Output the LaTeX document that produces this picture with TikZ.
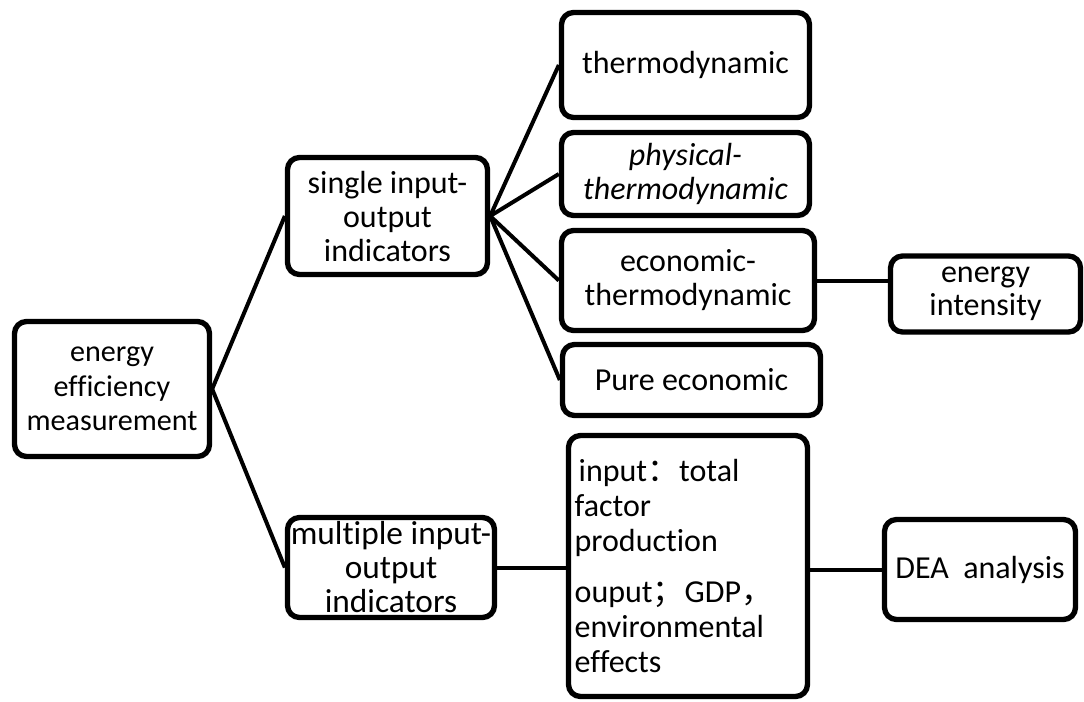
\documentclass[tikz,border=0pt]{standalone}
\usepackage{fontspec}
\setmainfont{Carlito}[Ligatures={NoCommon,NoContextual}]
\newfontfamily\cjk{Noto Sans CJK SC}
\usetikzlibrary{shadows,backgrounds}
\begin{document}
\begin{tikzpicture}[x=0.75pt,y=-0.75pt,
  box/.style={draw=black, line width=4pt, rounded corners=9pt, fill=white, align=center,
    font=\fontsize{24}{25.5}\selectfont, inner sep=1pt,
    drop shadow={shadow xshift=1.2pt, shadow yshift=-1.8pt, opacity=0.25}},
  sz/.style 2 args={minimum width=#1*0.75pt, minimum height=#2*0.75pt},
  conn/.style={line width=3pt}]
\useasboundingbox (0,0) rectangle (1084,701);

\node[box, sz={195}{135}, font=\fontsize{22.6}{26}\selectfont] (eem) at (112,389) {energy\\efficiency\\measurement};
\node[box, sz={200}{117}] (single) at (387.5,216) {single input-\\output\\indicators};
\node[box, sz={248}{105}] (thermo) at (685.5,65) {thermodynamic};
\node[box, sz={248}{83}] (phys) at (685.5,174) {\itshape physical-\\\itshape thermodynamic};
\node[box, sz={253}{100}] (econ) at (688,280.5) {economic-\\thermodynamic};
\node[box, sz={258}{71}] (pure) at (691.5,380) {Pure economic};
\node[box, sz={190}{76}, font=\fontsize{24}{24.5}\selectfont] (inten) at (985.5,294) {energy\\intensity};
\node[box, sz={207}{100}, font=\fontsize{25}{25.5}\selectfont, inner sep=0pt] (multi) at (391,567.5) {multiple input-\\output\\indicators};
\node[box, sz={239}{261}, text width=170pt, align=left, inner xsep=4.5pt, font=\fontsize{24}{26.3}\selectfont] (io) at (688,566)
  {\hspace{3pt}input{\cjk ：}total\\factor\\production\\[12pt]ouput{\cjk ；}GDP{\cjk ，}\\environmental\\effects};
\node[box, sz={191}{100}] (dea) at (980,569.5) {DEA~~analysis};

\begin{scope}[on background layer]
\draw[conn] (eem.east) -- (single.west);
\draw[conn] (eem.east) -- (multi.west);
\draw[conn] (single.east) -- (thermo.west);
\draw[conn] (single.east) -- (phys.west);
\draw[conn] (single.east) -- (econ.west);
\draw[conn] (single.east) -- (pure.west);
\draw[conn] (econ.east) -- (econ.east -| inten.west);
\draw[conn] (multi.east) -- (multi.east -| io.west);
\draw[conn] (dea.west -| io.east) -- (dea.west);
\end{scope}
\end{tikzpicture}
\end{document}
